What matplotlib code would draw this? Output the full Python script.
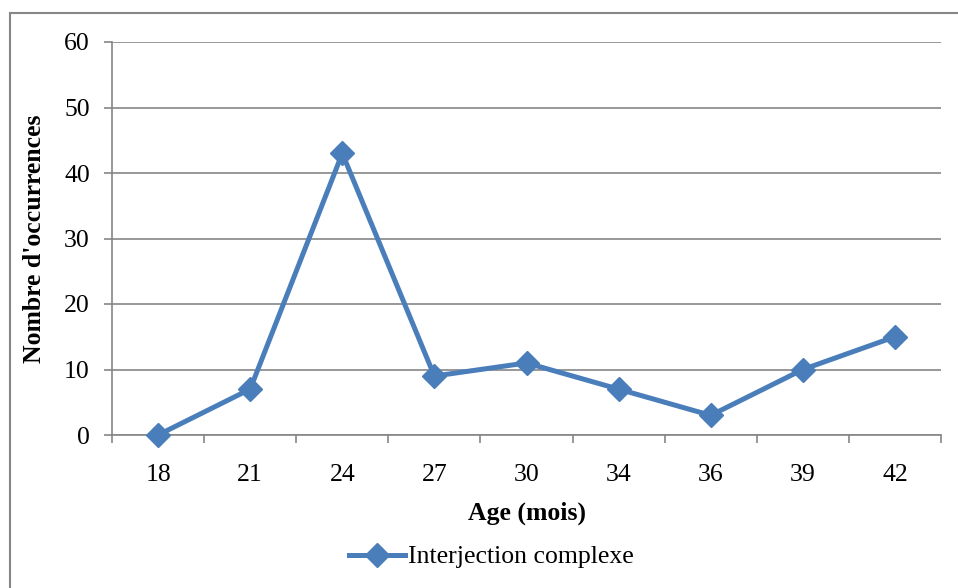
import matplotlib.pyplot as plt
from matplotlib.patches import Rectangle
from matplotlib.lines import Line2D

plt.rcParams['font.family'] = ['Liberation Serif', 'DejaVu Serif']

# data
ages = ["18", "21", "24", "27", "30", "34", "36", "39", "42"]
occurrences = [0, 7, 43, 9, 11, 7, 3, 10, 15]
series_name = "Interjection complexe"

blue = "#4a7ebb"
gray = "#868686"

fig = plt.figure(figsize=(9.58, 5.88), dpi=100)
ax = fig.add_axes([112/958, 1 - 435/588, (941 - 112)/958, (435 - 42)/588])

x = list(range(len(ages)))
ax.plot(x, occurrences, color=blue, lw=3.6, marker="D", markersize=12,
        markerfacecolor=blue, markeredgecolor=blue, zorder=3, clip_on=False)

ax.set_xlim(-0.5, len(ages) - 0.5)
ax.set_ylim(0, 60)
ax.set_yticks(range(0, 61, 10))
ax.set_xticks(x)
ax.set_xticklabels(ages)
ax.set_xticks([i - 0.5 for i in range(len(ages) + 1)], minor=True)

ax.grid(axis="y", color=gray, lw=1.2)
ax.set_axisbelow(True)
for s in ["top", "right"]:
    ax.spines[s].set_visible(False)
for s in ["left", "bottom"]:
    ax.spines[s].set_color(gray)
    ax.spines[s].set_linewidth(1.2)

ax.tick_params(axis="x", which="major", length=0, pad=21, labelsize=18.5)
ax.tick_params(axis="x", which="minor", length=6, color=gray, width=1.2)
ax.tick_params(axis="y", length=6, color=gray, width=1.2, pad=10, labelsize=18.5)

ax.set_xlabel("Age (mois)", fontsize=18.5, fontweight="bold", labelpad=11)
ax.set_ylabel("Nombre d'occurrences", fontsize=18.5, fontweight="bold", labelpad=13)

handle = Line2D([], [], color=blue, lw=3.6, marker="D", markersize=12)
fig.legend([handle], [series_name], loc="center", bbox_to_anchor=(491/958, 1 - 557/588),
           frameon=False, fontsize=18.5, handlelength=2.2, handletextpad=0.1)

# outer chart border
fig.patches.append(Rectangle((10/958, -0.05), 1.1, 1 - 13/588 + 0.05,
                             transform=fig.transFigure, fill=False,
                             edgecolor=gray, lw=1.5))

fig.savefig("out.png", dpi=100)
